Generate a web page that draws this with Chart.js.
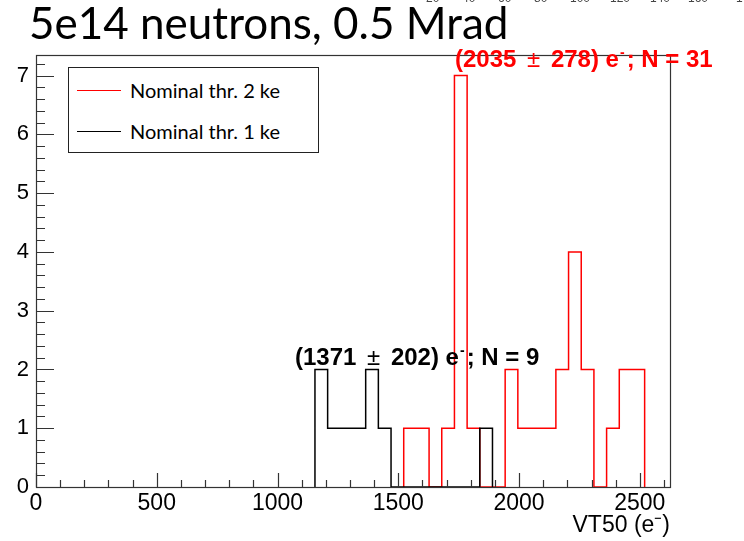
<!DOCTYPE html>
<html>
<head>
<meta charset="utf-8">
<script src="https://cdn.jsdelivr.net/npm/chart.js@4.4.1/dist/chart.umd.min.js"></script>
<style>
  html, body { margin: 0; padding: 0; background: #fff; }
  #wrap { position: relative; width: 744px; height: 541px; overflow: hidden; }
  #chart { position: absolute; left: 0; top: 0; }
  .title { position: absolute; left: 29px; top: -4px; font-family: Lato, "Open Sans", sans-serif; font-size: 44px; color: #000; white-space: nowrap; }
  .stat { position: absolute; font-family: "Liberation Sans", Arial, sans-serif; font-weight: bold; font-size: 24px; white-space: nowrap; }
  .stat sup { font-size: 14px; vertical-align: 10px; margin: 0 2px 0 1px; }
  .stat .pm { font-weight: normal; margin: 0 4px; }
  .legend { position: absolute; left: 68px; top: 67px; width: 249px; height: 84px; border: 1px solid #222; background: #fff; }
  .legend .row { position: absolute; left: 0; height: 30px; font-family: Lato, "Open Sans", sans-serif; font-size: 20px; white-space: nowrap; }
  .legend .swatch { position: absolute; left: 8px; width: 44px; top: 14px; height: 0; border-top: 1.5px solid; }
  .legend .txt { position: absolute; left: 61px; top: 2px; }
  .topfrag { position: absolute; top: -9px; font-family: "Liberation Sans", Arial, sans-serif; font-size: 12px; color: #444; }
</style>
</head>
<body>
<div id="wrap">
  <canvas id="chart" width="744" height="541"></canvas>
  <div class="title">5e14 neutrons, 0.5 Mrad</div>
  <div class="legend">
    <div class="row" style="top:8px"><div class="swatch" style="border-color:#f00"></div><div class="txt">Nominal thr. 2 ke</div></div>
    <div class="row" style="top:49px"><div class="swatch" style="border-color:#000"></div><div class="txt">Nominal thr. 1 ke</div></div>
  </div>
  <div class="stat" style="left:455px; top:44px; color:#f00">(2035 <span class="pm">±</span> 278) e<sup>-</sup>; N = 31</div>
  <div class="stat" style="left:295px; top:342px; color:#000">(1371 <span class="pm">±</span> 202) e<sup>-</sup>; N = 9</div>
</div>
<script>
// histogram binning (VT50 in electrons)
const binWidth = 52.5;
const xMax = 2625;
const yMax = 7.35;

// Nominal thr. 2 ke, first bin starts at 1522.5
const redStart = 1522.5;
const redCounts = [1, 1, 0, 1, 7, 1, 0, 0, 2, 1, 1, 1, 2, 4, 2, 0, 1, 2, 2];

// Nominal thr. 1 ke, first bin starts at 1155
const blackStart = 1155;
const blackCounts = [2, 1, 1, 1, 2, 1, 0, 0, 0, 0, 0, 0, 0, 1];

const xTickLabels = [0, 500, 1000, 1500, 2000, 2500];
const yTickLabels = [0, 1, 2, 3, 4, 5, 6, 7];

// cut-off axis labels of another plot at the top edge
const topFragments = ['20', '40', '60', '80', '100', '120', '140', '160', '1'];
const topFragX = [426, 462, 498, 534, 570, 610, 650, 688, 736];

const wrap = document.getElementById('wrap');
topFragments.forEach((t, i) => {
  const d = document.createElement('div');
  d.className = 'topfrag';
  d.style.left = topFragX[i] + 'px';
  d.textContent = t;
  wrap.appendChild(d);
});

function histPoints(start, counts) {
  const pts = [{ x: start, y: 0 }];
  counts.forEach((c, i) => pts.push({ x: start + i * binWidth, y: c }));
  pts.push({ x: start + counts.length * binWidth, y: 0 });
  return pts;
}

// ROOT style frame with ticks pointing inwards
const rootFrame = {
  id: 'rootFrame',
  afterDatasetsDraw(chart) {
    const { ctx, chartArea: a, scales } = chart;
    const xs = scales.x, ys = scales.y;
    ctx.save();
    ctx.strokeStyle = '#333';
    ctx.lineWidth = 1.2;
    ctx.beginPath();
    for (let v = 0; v <= xMax; v += 100) {
      const px = Math.round(xs.getPixelForValue(v)) + 0.5;
      const len = v % 500 === 0 ? 14 : 7;
      ctx.moveTo(px, a.bottom);
      ctx.lineTo(px, a.bottom - len);
    }
    for (let i = 0; i <= Math.floor(yMax * 5); i++) {
      const py = Math.round(ys.getPixelForValue(i / 5)) + 0.5;
      const len = i % 5 === 0 ? 18 : 9;
      ctx.moveTo(a.left, py);
      ctx.lineTo(a.left + len, py);
    }
    ctx.stroke();
    ctx.strokeRect(a.left + 0.5, a.top + 0.5, a.right - a.left, a.bottom - a.top);
    ctx.restore();
  }
};

const ctx = document.getElementById('chart').getContext('2d');
const chart = new Chart(ctx, {
  type: 'line',
  data: {
    datasets: [
      {
        label: 'Nominal thr. 1 ke',
        data: histPoints(blackStart, blackCounts),
        borderColor: '#000',
        borderWidth: 1.5,
        stepped: true,
        pointRadius: 0,
        fill: false,
      },
      {
        label: 'Nominal thr. 2 ke',
        data: histPoints(redStart, redCounts),
        borderColor: '#f00',
        borderWidth: 1.5,
        stepped: true,
        pointRadius: 0,
        fill: false,
      },
    ],
  },
  options: {
    responsive: false,
    devicePixelRatio: 1,
    animation: false,
    layout: { padding: { left: 0, right: 74, top: 55, bottom: 0 } },
    scales: {
      x: {
        type: 'linear',
        min: 0,
        max: xMax,
        afterFit(scale) { scale.height = 54; },
        afterBuildTicks(scale) { scale.ticks = xTickLabels.map(v => ({ value: v })); },
        grid: { display: false, drawTicks: false },
        border: { display: false },
        ticks: {
          color: '#000',
          padding: 3,
          maxRotation: 0,
          autoSkip: false,
          font: { family: 'Liberation Sans', size: 23 },
          callback: v => String(v),
        },
        title: {
          display: true,
          text: 'VT50 (e⁻)',
          align: 'end',
          color: '#000',
          padding: { top: 0, bottom: 2 },
          font: { family: 'Liberation Sans', size: 23 },
        },
      },
      y: {
        min: 0,
        max: yMax,
        afterFit(scale) { scale.width = 36; },
        afterBuildTicks(scale) { scale.ticks = yTickLabels.map(v => ({ value: v })); },
        grid: { display: false, drawTicks: false },
        border: { display: false },
        ticks: {
          color: '#000',
          padding: 7,
          font: { family: 'Liberation Sans', size: 22 },
          callback: v => String(v),
        },
      },
    },
    plugins: {
      legend: { display: false },
      tooltip: { enabled: false },
    },
  },
  plugins: [rootFrame],
});
</script>
</body>
</html>
